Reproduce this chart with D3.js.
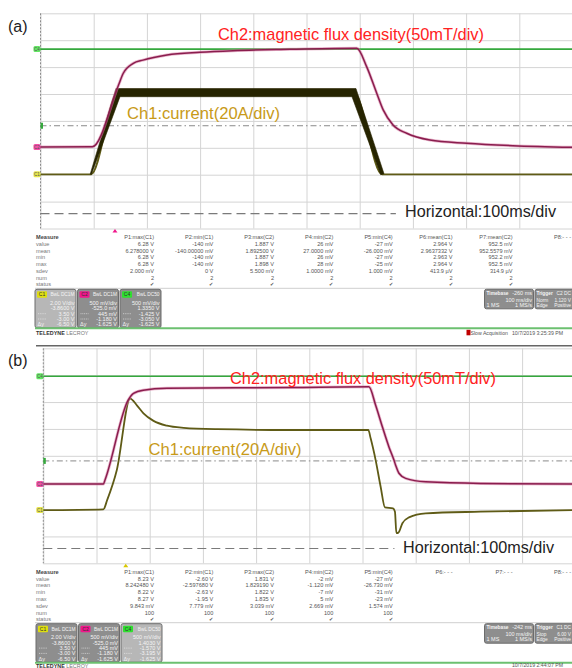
<!DOCTYPE html>
<html>
<head>
<meta charset="utf-8">
<script src="https://cdn.jsdelivr.net/npm/d3@7"></script>
<style>
  body { margin: 0; background: #fff; }
  svg { display: block; }
  text { font-family: "Liberation Sans", Arial, sans-serif; }
</style>
</head>
<body>
<svg id="chart" width="572" height="668"></svg>
<script>
// scope grid: 10 time divisions (100 ms/div), 8 vertical divisions
const timeTicks = d3.range(0, 1001, 100);   // ms
const divTicks = d3.range(-4, 5, 1);        // divisions

// ---- panel (a) traces, [time ms, divisions] ----
const greenA = [[0, 2.67], [1000, 2.67]];
const fluxA = [[0, -0.97], [97.4, -0.96], [146.2, 1.31], [155.6, 1.77], [174.4, 2.14], [192.7, 2.26],
  [237.8, 2.45], [299.8, 2.55], [361.8, 2.61], [469, 2.66], [594.4, 2.70], [613.2, 2.01], [632, 1.03],
  [644.4, 0.40], [662.6, -0.15], [688.3, -0.46], [732, -0.71], [801, -0.83], [888, -0.92], [1000, -0.98]];
const currentA = [[0, -1.985], [94.9, -1.985], [145.7, 1.06], [589, 1.06], [642, -1.985], [1000, -1.985]];
const rippleHiA = [[93.5, -1.97], [141.9, 1.204], [593, 1.204], [645.7, -1.965]];
const rippleLoA = [[95.5, -2.0], [149.4, 0.90], [585.5, 0.90], [639.5, -2.0]];
const refLevelA = -0.18;

// ---- panel (b) traces ----
const greenB = [[0, 2.96], [1000, 2.96]];
const fluxB = [[0, -1.05], [113, -1.05], [116, -0.9], [159.5, 2.07], [169.5, 2.32], [187.8, 2.44],
  [232.4, 2.51], [464.6, 2.54], [612, 2.57], [624.7, 1.88], [637.3, 1.08], [649.7, 0.33], [659.1, -0.16],
  [662.3, -0.35], [668.5, -0.65], [681.2, -0.84], [718.8, -0.97], [822.4, -1.03], [1000, -1.05]];
const currentB = [[0, -2.02], [113, -1.99], [120, -1.65], [138.2, -0.53], [163.3, 2.13], [175.9, 1.88],
  [188.3, 1.58], [207.2, 1.30], [232.4, 1.12], [263.7, 1.04], [326.6, 0.99], [464.6, 0.96], [610.9, 0.96],
  [615.3, 0.65], [624.7, -0.16], [634.1, -1.15], [642.2, -1.92], [657.3, -1.96], [661, -2.08],
  [663.7, -2.88], [667.5, -2.86], [675, -2.51], [687.4, -2.29], [718.8, -2.14], [822.4, -2.08], [1000, -2.02]];
const refLevelB = -0.19;

const hLineLevel = -3.45;       // dashed line under "Horizontal" note
const hLineEnd = [668, 660];    // ms, (a) and (b)

// ---- measurement tables ----
const measRows = ['value', 'mean', 'min', 'max', 'sdev', 'num', 'status'];
const headersA = ['P1:max(C1)', 'P2:min(C1)', 'P3:max(C2)', 'P4:min(C2)', 'P5:min(C4)', 'P6:mean(C1)', 'P7:mean(C2)', 'P8:- - -'];
const colsA = [
  ['6.28 V', '6.278000 V', '6.28 V', '6.28 V', '2.000 mV', '2', '✔'],
  ['-140 mV', '-140.00000 mV', '-140 mV', '-140 mV', '0 V', '2', '✔'],
  ['1.887 V', '1.892500 V', '1.887 V', '1.898 V', '5.500 mV', '2', '✔'],
  ['26 mV', '27.0000 mV', '26 mV', '28 mV', '1.0000 mV', '2', '✔'],
  ['-27 mV', '-26.000 mV', '-27 mV', '-25 mV', '1.000 mV', '2', '✔'],
  ['2.964 V', '2.9637332 V', '2.963 V', '2.964 V', '413.9 µV', '2', '✔'],
  ['952.5 mV', '952.5579 mV', '952.2 mV', '952.5 mV', '314.9 µV', '2', '✔']
];
const headersB = ['P1:max(C1)', 'P2:min(C1)', 'P3:max(C2)', 'P4:min(C2)', 'P5:min(C4)', 'P6:- - -', 'P7:- - -', 'P8:- - -'];
const colsB = [
  ['8.23 V', '8.242480 V', '8.22 V', '8.27 V', '9.843 mV', '100', '✔'],
  ['-2.60 V', '-2.597680 V', '-2.63 V', '-1.95 V', '7.779 mV', '100', '✔'],
  ['1.831 V', '1.829190 V', '1.822 V', '1.835 V', '3.039 mV', '100', '✔'],
  ['-2 mV', '-1.120 mV', '-7 mV', '5 mV', '2.669 mV', '100', '✔'],
  ['-27 mV', '-26.730 mV', '-31 mV', '-23 mV', '1.574 mV', '100', '✔']
];

// ---- channel / timebase / trigger boxes ----
const chanTags = ['C1', 'C2', 'C4'];
const chanHead = ['BwL DC1M', 'BwL DC1M', 'BwL DC50'];
const chanRowsA = [
  ['2.00 V/div', '-3.8600 V', '3.50 V', '-3.00 V', '-6.50 V'],
  ['500 mV/div', '-525.0 mV', '445 mV', '-1.180 V', '-1.625 V'],
  ['500 mV/div', '1.3350 V', '-1.425 V', '-3.050 V', '-1.625 V']
];
const chanRowsB = [
  ['2.00 V/div', '-3.8600 V', '3.50 V', '-3.00 V', '-6.50 V'],
  ['500 mV/div', '-525.0 mV', '445 mV', '-1.180 V', '-1.625 V'],
  ['500 mV/div', '1.4030 V', '-1.570 V', '-3.195 V', '-1.625 V']
];
const timebaseA = ['-260 ms', '100 ms/div', '1 MS', '1 MS/s'];
const triggerA = ['C2 DC', 'Norm', '1.120 V', 'Edge', 'Positive'];
const timebaseB = ['-242 ms', '100 ms/div', '1 MS', '1 MS/s'];
const triggerB = ['C1 DC', 'Stop', '6.00 V', 'Edge', 'Positive'];
const stampA = '10/7/2019 3:25:39 PM';
const stampB = '10/7/2019 2:44:07 PM';

// colours
const cGreen = '#35a83d', cFlux = '#8a1d4e', cFluxHalo = '#d77aa3', cCur = '#5f5b16', cRipple = '#262400';
const tagColors = { C1: '#dede10', C2: '#f0168c', C4: '#2fe02f' };

const svg = d3.select('#chart');
svg.append('rect').attr('width', 572).attr('height', 668).attr('fill', '#fff');

function drawPanel(p) {
  const x = d3.scaleLinear().domain([0, 1000]).range([p.left, p.left + 532]);
  const y = d3.scaleLinear().domain([-4, 4]).range([p.bottom, p.top]);
  const g = svg.append('g');
  const line = d3.line().x(d => x(d[0])).y(d => y(d[1]));

  // grid
  g.append('g').attr('transform', `translate(0,${p.bottom})`)
    .call(d3.axisBottom(x).tickValues(timeTicks).tickSize(-(p.bottom - p.top)).tickFormat(''))
    .call(a => a.select('.domain').remove())
    .selectAll('line').attr('stroke', '#d4d4d4');
  g.append('g').attr('transform', `translate(${p.left},0)`)
    .call(d3.axisLeft(y).tickValues(divTicks).tickSize(-532).tickFormat(''))
    .call(a => a.select('.domain').remove())
    .selectAll('line').attr('stroke', '#d4d4d4');
  g.append('line').attr('x1', x(0)).attr('x2', x(0)).attr('y1', p.top).attr('y2', p.bottom)
    .attr('stroke', '#8c8c8c').attr('stroke-dasharray', '2,1.5');

  // dash-dot reference level
  g.append('line').attr('x1', x(0)).attr('x2', x(1000)).attr('y1', y(p.ref)).attr('y2', y(p.ref))
    .attr('stroke', '#8a8a8a').attr('stroke-dasharray', '6,3,1.5,3');
  g.append('rect').attr('x', x(0)).attr('y', y(p.ref) - 3).attr('width', 2.5).attr('height', 6).attr('fill', cGreen);

  // dashed line of the "Horizontal" note
  g.append('line').attr('x1', x(0)).attr('x2', x(p.hEnd)).attr('y1', y(hLineLevel)).attr('y2', y(hLineLevel))
    .attr('stroke', '#7a7a7a').attr('stroke-width', 1.2).attr('stroke-dasharray', '9,5');

  // traces
  g.append('path').attr('d', line(p.green)).attr('fill', 'none').attr('stroke', cGreen).attr('stroke-width', 1.6);
  const smooth = d3.line().x(d => x(d[0])).y(d => y(d[1])).curve(d3.curveMonotoneX);
  g.append('path').attr('d', smooth(p.cur)).attr('fill', 'none').attr('stroke', cCur).attr('stroke-width', 1.8);
  if (p.hi) {
    const band = p.hi.concat(p.lo.slice().reverse());
    g.append('path').attr('d', d3.line().x(d => x(d[0])).y(d => y(d[1])).curve(d3.curveLinearClosed)(band))
      .attr('fill', cRipple).attr('stroke', cRipple).attr('stroke-width', 0.6);
  }
  g.append('path').attr('d', smooth(p.flux)).attr('fill', 'none').attr('stroke', cFluxHalo)
    .attr('stroke-width', 3).attr('opacity', 0.55);
  g.append('path').attr('d', smooth(p.flux)).attr('fill', 'none').attr('stroke', cFlux).attr('stroke-width', 1.5);

  // channel tags at left edge
  [['C4', p.green[0][1]], ['C2', p.flux[0][1]], ['C1', p.cur[0][1]]].forEach(([t, v]) => {
    const ty = y(v);
    g.append('rect').attr('x', x(0) - 7).attr('y', ty - 3).attr('width', 7).attr('height', 6).attr('rx', 1.5)
      .attr('fill', tagColors[t]).attr('opacity', 0.75);
    g.append('text').attr('x', x(0) - 3.5).attr('y', ty + 1.8).attr('text-anchor', 'middle')
      .attr('font-size', 4.5).attr('fill', '#555').text(t);
  });

  // trigger position marker
  g.append('path').attr('d', `M${x(p.trig) - 2.5},${p.bottom + 4}L${x(p.trig)},${p.bottom + 0.5}L${x(p.trig) + 2.5},${p.bottom + 4}Z`)
    .attr('fill', p.trigColor);

  // annotations
  g.append('text').attr('x', 8).attr('y', p.bottom - 197).attr('font-size', 16).attr('fill', '#222').text(p.label);
  g.append('text').attr('x', p.ch2x).attr('y', p.ch2y).attr('font-family', 'Lato, "Open Sans", sans-serif')
    .attr('font-size', 17).attr('fill', '#ff2222').attr('textLength', 266).attr('lengthAdjust', 'spacingAndGlyphs')
    .text('Ch2:magnetic flux density(50mT/div)');
  g.append('text').attr('x', p.ch1x).attr('y', p.ch1y).attr('font-family', 'Lato, "Open Sans", sans-serif')
    .attr('font-size', 17).attr('fill', '#c89a18').attr('textLength', 153).attr('lengthAdjust', 'spacingAndGlyphs')
    .text('Ch1:current(20A/div)');
  g.append('text').attr('x', p.hx).attr('y', p.hy).attr('font-family', '"Liberation Serif", "DejaVu Serif", serif')
    .attr('font-size', 16).attr('fill', '#222').attr('textLength', 151).attr('lengthAdjust', 'spacingAndGlyphs')
    .text('Horizontal:100ms/div');
}

function drawTable(t) {
  const g = svg.append('g').attr('font-size', 5.6);
  const rx = [154, 213.3, 274, 333.3, 392.7, 452.5, 512.5, 571];
  g.append('text').attr('x', 36).attr('y', t.top + 2).attr('font-weight', 'bold').attr('fill', '#444').text('Measure');
  measRows.forEach((r, i) => {
    g.append('text').attr('x', 36).attr('y', t.top + 2 + (i + 1) * t.step).attr('fill', '#777').text(r);
  });
  t.headers.forEach((h, j) => {
    g.append('text').attr('x', rx[j]).attr('y', t.top + 2).attr('text-anchor', 'end').attr('fill', '#555').text(h);
  });
  t.cols.forEach((c, j) => {
    c.forEach((v, i) => {
      g.append('text').attr('x', rx[j]).attr('y', t.top + 2 + (i + 1) * t.step).attr('text-anchor', 'end')
        .attr('fill', '#555').attr('font-size', i === 6 ? 5 : 5.6).text(v);
    });
  });
  g.append('line').attr('x1', 35).attr('x2', 572).attr('y1', t.sep).attr('y2', t.sep).attr('stroke', '#cfcfcf');

  // channel boxes
  const bg = svg.append('g').attr('font-size', 5.5);
  t.chan.forEach((rows, k) => {
    const bx = t.boxX + k * 42.5, by = t.sep + 1;
    bg.append('rect').attr('x', bx).attr('y', by).attr('width', 41).attr('height', 38.5).attr('rx', 2)
      .attr('fill', k === t.light ? '#b7b7b7' : '#8e8e8e').attr('stroke', '#6c6c6c');
    bg.append('rect').attr('x', bx + 2).attr('y', by + 2).attr('width', 10).attr('height', 6.5).attr('rx', 1)
      .attr('fill', tagColors[chanTags[k]]);
    bg.append('text').attr('x', bx + 7).attr('y', by + 7).attr('text-anchor', 'middle').attr('fill', '#333')
      .attr('font-size', 5).text(chanTags[k]);
    bg.append('text').attr('x', bx + 39.5).attr('y', by + 7).attr('text-anchor', 'end').attr('fill', '#f4f4f4')
      .attr('font-size', 4.8).text(chanHead[k]);
    const ys = [15.3, 21, 26.2, 31.5, 37];
    rows.forEach((v, i) => {
      bg.append('text').attr('x', bx + 39.5).attr('y', by + ys[i]).attr('text-anchor', 'end').attr('fill', '#f4f4f4').text(v);
    });
    bg.append('text').attr('x', bx + 2.5).attr('y', by + 37).attr('fill', '#f4f4f4').text('Δy');
    [26.2, 31.5].forEach(yy => {
      bg.append('line').attr('x1', bx + 3).attr('x2', bx + 11).attr('y1', by + yy - 1.8).attr('y2', by + yy - 1.8)
        .attr('stroke', '#eee').attr('stroke-width', 0.6).attr('stroke-dasharray', '1,0.8');
    });
  });

  // timebase / trigger boxes
  const tbY = t.sep + 1;
  bg.append('rect').attr('x', 484.5).attr('y', tbY).attr('width', 49).attr('height', 19.5).attr('rx', 2)
    .attr('fill', '#8e8e8e').attr('stroke', '#6c6c6c');
  bg.append('rect').attr('x', 535).attr('y', tbY).attr('width', 40).attr('height', 19.5).attr('rx', 2)
    .attr('fill', '#8e8e8e').attr('stroke', '#6c6c6c');
  const w = '#f4f4f4';
  bg.append('text').attr('x', 486.5).attr('y', tbY + 5.6).attr('fill', w).attr('font-weight', 'bold').attr('font-size', 4.8).text('Timebase');
  bg.append('text').attr('x', 532).attr('y', tbY + 5.6).attr('fill', w).attr('text-anchor', 'end').text(t.tb[0]);
  bg.append('text').attr('x', 532).attr('y', tbY + 12.3).attr('fill', w).attr('text-anchor', 'end').text(t.tb[1]);
  bg.append('text').attr('x', 486.5).attr('y', tbY + 17.6).attr('fill', w).text(t.tb[2]);
  bg.append('text').attr('x', 532).attr('y', tbY + 17.6).attr('fill', w).attr('text-anchor', 'end').text(t.tb[3]);
  const tg = bg.append('g').attr('font-size', 4.8);
  tg.append('text').attr('x', 536.5).attr('y', tbY + 5.6).attr('fill', w).attr('font-weight', 'bold').text('Trigger');
  tg.append('text').attr('x', 571).attr('y', tbY + 5.6).attr('fill', w).attr('text-anchor', 'end').text(t.trg[0]);
  tg.append('text').attr('x', 536.5).attr('y', tbY + 12.3).attr('fill', w).text(t.trg[1]);
  tg.append('text').attr('x', 571).attr('y', tbY + 12.3).attr('fill', w).attr('text-anchor', 'end').text(t.trg[2]);
  tg.append('text').attr('x', 536.5).attr('y', tbY + 17.6).attr('fill', w).text(t.trg[3]);
  tg.append('text').attr('x', 571).attr('y', tbY + 17.6).attr('fill', w).attr('text-anchor', 'end').text(t.trg[4]);

  // footer
  const gy = t.sep + 40;
  svg.append('line').attr('x1', 35).attr('x2', 572).attr('y1', gy).attr('y2', gy).attr('stroke', '#6cc070').attr('stroke-width', 2);
  const brand = svg.append('text').attr('x', 36).attr('y', gy + t.footDy).attr('font-size', 5.4).attr('fill', '#333');
  brand.append('tspan').attr('font-weight', 'bold').text('TELEDYNE ');
  brand.append('tspan').attr('fill', '#777').text('LECROY');
  svg.append('text').attr('x', 563).attr('y', gy + t.stampDy).attr('text-anchor', 'end').attr('font-size', 5.2)
    .attr('fill', '#555').text(t.stamp);
  if (t.slow) {
    svg.append('rect').attr('x', 466.5).attr('y', gy + 1.5).attr('width', 4).attr('height', 5.5).attr('fill', '#c00000');
    svg.append('text').attr('x', 470.5).attr('y', gy + 6.5).attr('font-size', 5.2).attr('fill', '#555').text('Slow Acquisition');
  }
}

drawPanel({ label: '(a)', left: 40.5, top: 13.3, bottom: 228.5, green: greenA, flux: fluxA, cur: currentA,
  hi: rippleHiA, lo: rippleLoA, ref: refLevelA, hEnd: hLineEnd[0], trig: 140, trigColor: '#f0168c',
  ch2x: 218, ch2y: 40, ch1x: 127, ch1y: 118.5, hx: 405, hy: 216.5 });

// separator above panel (b)
svg.append('line').attr('x1', 36).attr('x2', 572).attr('y1', 345.7).attr('y2', 345.7).attr('stroke', '#666').attr('stroke-width', 1.5);

drawPanel({ label: '(b)', left: 43.3, top: 348.3, bottom: 563.3, green: greenB, flux: fluxB, cur: currentB,
  ref: refLevelB, hEnd: hLineEnd[1], trig: 155, trigColor: '#d8c800',
  ch2x: 230, ch2y: 383.5, ch1x: 148.5, ch1y: 454.5, hx: 403, hy: 552.5 });

drawTable({ top: 237.3, step: 6.72, headers: headersA, cols: colsA, sep: 288.3, chan: chanRowsA, light: 0,
  boxX: 35, tb: timebaseA, trg: triggerA, stamp: stampA, slow: true, footDy: 7, stampDy: 6.5 });
drawTable({ top: 571.7, step: 6.8, headers: headersB, cols: colsB, sep: 622.7, chan: chanRowsB, light: 2,
  boxX: 36, tb: timebaseB, trg: triggerB, stamp: stampB, slow: false, footDy: 5, stampDy: 4 });
</script>
</body>
</html>
